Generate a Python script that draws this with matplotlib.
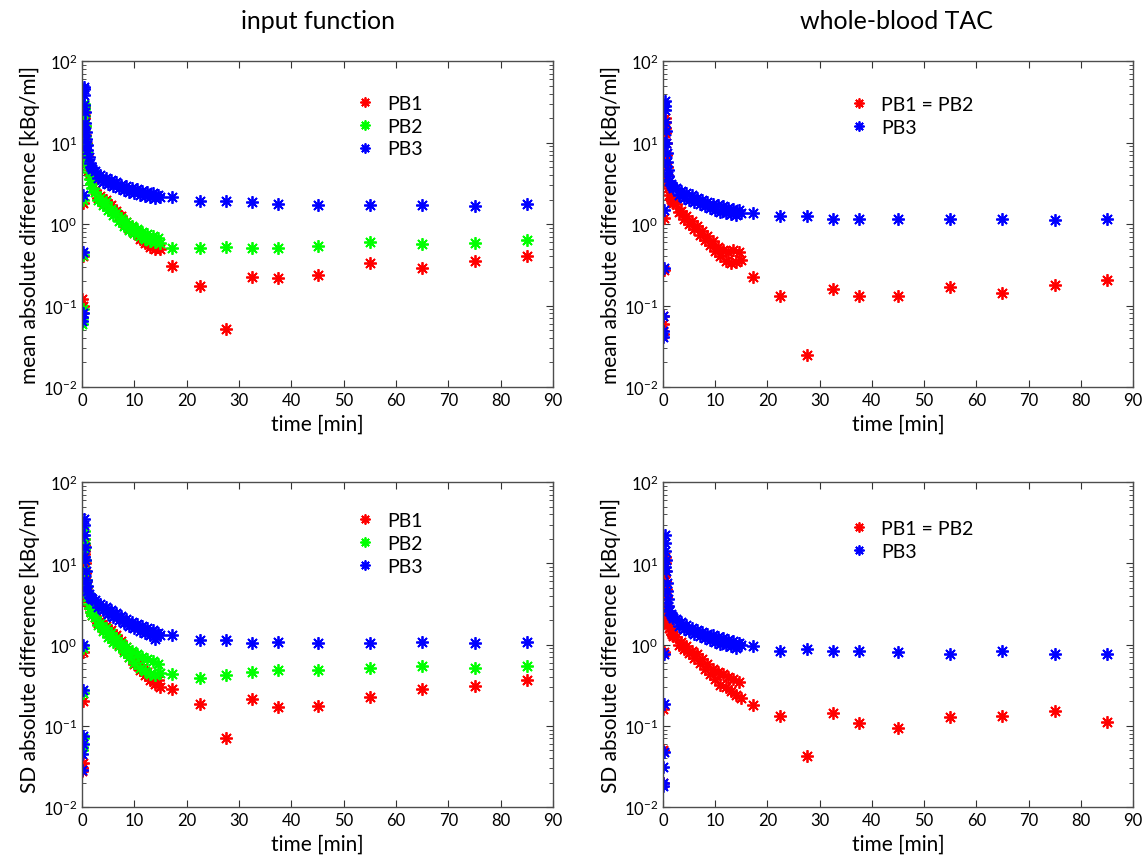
import numpy as np
import matplotlib
matplotlib.use("Agg")
import matplotlib.pyplot as plt
from matplotlib.ticker import LogLocator, MultipleLocator

plt.rcParams['font.family'] = ['Lato', 'DejaVu Sans']
plt.rcParams['mathtext.fontset'] = 'custom'
plt.rcParams['mathtext.rm'] = 'Lato'
plt.rcParams['axes.unicode_minus'] = False

# --- sampling times [min] (same grid for every curve) ---
t_min = [0.0, 0.05, 0.1, 0.15, 0.2, 0.25, 0.3, 0.35, 0.4, 0.45,
         0.5, 0.6, 0.7, 0.8, 0.9, 1.0, 1.25, 1.5, 1.75, 2.0,
         2.5, 3.0, 3.5, 4.0, 4.5, 5.0, 5.5, 6.0, 6.5, 7.0,
         7.5, 8.0, 8.5, 9.0, 9.5, 10.0, 10.5, 11.0, 11.5, 12.0,
         12.5, 13.0, 13.5, 14.0, 14.5, 15.0,
         17.25, 22.5, 27.5, 32.5, 37.5, 45.0, 55.0, 65.0, 75.0, 85.0]

# --- input function, mean absolute difference [kBq/ml] ---
if_mean_pb1 = [0.12, 0.08, 0.10, 0.40, 1.8, 10.0, 22.0, 27.0, 24.0, 20.0,
               16.0, 12.5, 9.8, 8.0, 6.8, 5.9, 4.8, 4.1, 3.6, 3.2,
               2.6, 2.1, 2.2, 1.85, 1.95, 1.7, 1.7, 1.45, 1.45, 1.25,
               1.25, 1.02, 1.05, 0.88, 0.92, 0.78, 0.8, 0.66, 0.68, 0.58,
               0.6, 0.52, 0.57, 0.5, 0.56, 0.5,
               0.305, 0.173, 0.0515, 0.226, 0.22, 0.234, 0.33, 0.286, 0.35, 0.406]
if_mean_pb2 = [0.06, 0.07, 0.09, 0.42, 2.0, 12.0, 28.0, 30.0, 26.0, 21.0,
               16.0, 12.0, 9.5, 7.6, 6.2, 5.2, 4.3, 3.6, 3.1, 2.8,
               2.5, 2.0, 2.1, 1.7, 1.85, 1.5, 1.55, 1.3, 1.35, 1.1,
               1.18, 0.95, 1.05, 0.85, 0.95, 0.78, 0.88, 0.72, 0.8, 0.66,
               0.76, 0.62, 0.72, 0.6, 0.68, 0.58,
               0.515, 0.515, 0.53, 0.515, 0.515, 0.54, 0.61, 0.577, 0.59, 0.63]
if_mean_pb3 = [0.064, 0.072, 0.081, 0.45, 2.3, 15.0, 45.0, 48.0, 38.0, 29.0,
               24.0, 17.5, 13.5, 11.0, 9.3, 8.1, 6.6, 5.6, 5.0, 4.7,
               4.5, 3.7, 4.0, 3.3, 3.7, 3.1, 3.45, 2.9, 3.25, 2.75,
               3.05, 2.6, 2.95, 2.5, 2.8, 2.4, 2.7, 2.3, 2.55, 2.2,
               2.5, 2.12, 2.4, 2.08, 2.3, 2.15,
               2.13, 1.94, 1.94, 1.85, 1.77, 1.73, 1.70, 1.70, 1.67, 1.77]

# --- whole-blood TAC, mean absolute difference [kBq/ml] ---
wb_mean_pb12 = [0.045, 0.06, 0.075, 0.27, 1.2, 6.0, 15.0, 20.0, 18.0, 13.0,
                10.0, 7.0, 5.0, 4.0, 3.3, 2.8, 2.3, 2.05, 1.9, 1.8,
                1.75, 1.4, 1.45, 1.15, 1.25, 1.0, 1.08, 0.86, 0.95, 0.74,
                0.83, 0.64, 0.72, 0.55, 0.62, 0.47, 0.52, 0.4, 0.48, 0.35,
                0.46, 0.33, 0.48, 0.34, 0.46, 0.36,
                0.224, 0.13, 0.0248, 0.158, 0.13, 0.13, 0.169, 0.144, 0.177, 0.203]
wb_mean_pb3 = [0.041, 0.048, 0.075, 0.29, 1.5, 10.0, 28.0, 32.0, 25.0, 18.0,
               14.0, 10.0, 7.5, 5.8, 4.6, 3.9, 3.4, 3.1, 2.9, 2.75,
               2.75, 2.25, 2.55, 2.1, 2.4, 1.95, 2.25, 1.85, 2.1, 1.75,
               1.98, 1.65, 1.88, 1.58, 1.78, 1.5, 1.72, 1.42, 1.65, 1.38,
               1.58, 1.34, 1.54, 1.3, 1.5, 1.36,
               1.38, 1.26, 1.26, 1.17, 1.14, 1.14, 1.14, 1.14, 1.11, 1.14]

# --- input function, SD of absolute difference [kBq/ml] ---
if_sd_pb1 = [0.03, 0.028, 0.035, 0.2, 0.8, 4.0, 14.0, 20.0, 17.0, 13.0,
             10.0, 7.5, 6.0, 5.0, 4.2, 3.7, 3.1, 2.8, 2.5, 2.3,
             2.2, 1.85, 1.95, 1.6, 1.7, 1.4, 1.5, 1.2, 1.3, 1.0,
             1.1, 0.85, 0.92, 0.7, 0.76, 0.57, 0.63, 0.48, 0.52, 0.42,
             0.46, 0.37, 0.4, 0.33, 0.37, 0.3,
             0.284, 0.185, 0.0705, 0.214, 0.17, 0.173, 0.226, 0.284, 0.305, 0.37]
if_sd_pb2 = [0.055, 0.05, 0.07, 0.25, 0.9, 5.0, 18.0, 25.0, 20.0, 15.0,
             11.0, 8.0, 6.3, 5.2, 4.4, 3.8, 3.2, 2.8, 2.5, 2.3,
             2.2, 1.75, 1.85, 1.45, 1.6, 1.25, 1.38, 1.08, 1.2, 0.95,
             1.05, 0.82, 0.92, 0.7, 0.84, 0.6, 0.76, 0.52, 0.7, 0.47,
             0.66, 0.44, 0.62, 0.42, 0.58, 0.45,
             0.435, 0.388, 0.426, 0.46, 0.48, 0.48, 0.515, 0.54, 0.515, 0.55]
if_sd_pb3 = [0.0286, 0.045, 0.06, 0.075, 0.278, 1.0, 12.0, 35.0, 30.0, 22.0,
             16.0, 11.0, 8.0, 6.2, 5.3, 4.6, 4.2, 3.9, 3.7, 3.6,
             3.5, 2.9, 3.2, 2.65, 2.9, 2.4, 2.65, 2.2, 2.45, 2.0,
             2.25, 1.85, 2.08, 1.7, 1.92, 1.58, 1.8, 1.48, 1.7, 1.4,
             1.6, 1.3, 1.52, 1.18, 1.38, 1.3,
             1.30, 1.15, 1.15, 1.05, 1.07, 1.05, 1.05, 1.08, 1.05, 1.08]

# --- whole-blood TAC, SD of absolute difference [kBq/ml] ---
wb_sd_pb12 = [0.02, 0.05, 0.16, 0.8, 2.0, 7.0, 12.0, 10.0, 8.0, 6.0,
              4.8, 3.8, 3.0, 2.5, 2.1, 1.8, 1.6, 1.45, 1.35, 1.28,
              1.25, 1.0, 1.06, 0.88, 0.95, 0.78, 0.84, 0.68, 0.76, 0.6,
              0.66, 0.5, 0.58, 0.44, 0.5, 0.38, 0.46, 0.32, 0.43, 0.3,
              0.4, 0.27, 0.38, 0.24, 0.35, 0.22,
              0.18, 0.133, 0.043, 0.144, 0.107, 0.094, 0.129, 0.133, 0.153, 0.110]
wb_sd_pb3 = [0.018, 0.02, 0.031, 0.047, 0.185, 0.76, 9.0, 22.0, 18.0, 14.0,
             11.0, 8.0, 5.8, 4.5, 3.6, 3.0, 2.6, 2.4, 2.25, 2.1,
             2.05, 1.68, 1.9, 1.55, 1.75, 1.45, 1.62, 1.36, 1.52, 1.27,
             1.42, 1.2, 1.36, 1.13, 1.3, 1.08, 1.25, 1.03, 1.2, 1.0,
             1.15, 0.95, 1.1, 0.9, 1.05, 0.98,
             0.97, 0.84, 0.88, 0.84, 0.84, 0.80, 0.76, 0.84, 0.77, 0.77]

RED, GREEN, BLUE = '#ff0000', '#00ff00', '#0000ff'
STAR = (8, 2, 0)  # 8-armed asterisk


def draw_panel(ax, series, ylabel, leg_xy):
    for vals, col, lab in series:
        ax.plot(t_min, vals, linestyle='none', marker=STAR, markersize=9,
                markeredgewidth=1.3, color=col, label=lab)
    ax.set_yscale('log')
    ax.set_xlim(0, 90)
    ax.set_ylim(1e-2, 1e2)
    ax.xaxis.set_major_locator(MultipleLocator(10))
    ax.yaxis.set_major_locator(LogLocator(base=10, numticks=10))
    ax.yaxis.set_minor_locator(LogLocator(base=10, subs=np.arange(2, 10), numticks=10))
    ax.tick_params(which='both', direction='in', top=True, right=True,
                   labelsize=12, colors='0.2', labelcolor='black')
    ax.tick_params(which='major', length=5, width=0.8)
    ax.tick_params(which='minor', length=3, width=0.6)
    for sp in ax.spines.values():
        sp.set_color('0.3')
        sp.set_linewidth(1.0)
    ax.set_xlabel('time [min]', fontsize=15, labelpad=4)
    ax.set_ylabel(ylabel, fontsize=15, labelpad=2)
    leg = ax.legend(loc='upper left', bbox_to_anchor=leg_xy, frameon=False,
                    fontsize=14, handlelength=1.0, handletextpad=0.65,
                    labelspacing=0.3, borderpad=0, borderaxespad=0,
                    markerscale=0.8)
    return leg


fig = plt.figure(figsize=(11.45, 8.62), dpi=100)
ax1 = fig.add_axes([0.0716, 0.5499, 0.4114, 0.378])
ax2 = fig.add_axes([0.5790, 0.5499, 0.4105, 0.378])
ax3 = fig.add_axes([0.0716, 0.0626, 0.4114, 0.377])
ax4 = fig.add_axes([0.5790, 0.0626, 0.4105, 0.377])

mean_lab = 'mean absolute difference [kBq/ml]'
sd_lab = 'SD absolute difference [kBq/ml]'

draw_panel(ax1, [(if_mean_pb1, RED, 'PB1'), (if_mean_pb2, GREEN, 'PB2'),
                 (if_mean_pb3, BLUE, 'PB3')], mean_lab, (0.580, 0.897))
draw_panel(ax2, [(wb_mean_pb12, RED, 'PB1 = PB2'), (wb_mean_pb3, BLUE, 'PB3')],
           mean_lab, (0.396, 0.894))
draw_panel(ax3, [(if_sd_pb1, RED, 'PB1'), (if_sd_pb2, GREEN, 'PB2'),
                 (if_sd_pb3, BLUE, 'PB3')], sd_lab, (0.580, 0.907))
draw_panel(ax4, [(wb_sd_pb12, RED, 'PB1 = PB2'), (wb_sd_pb3, BLUE, 'PB3')],
           sd_lab, (0.396, 0.883))

fig.text(0.2777, 0.9745, 'input function', ha='center', va='center', fontsize=18)
fig.text(0.7825, 0.9745, 'whole-blood TAC', ha='center', va='center', fontsize=18)

fig.savefig('out.png', dpi=100)
